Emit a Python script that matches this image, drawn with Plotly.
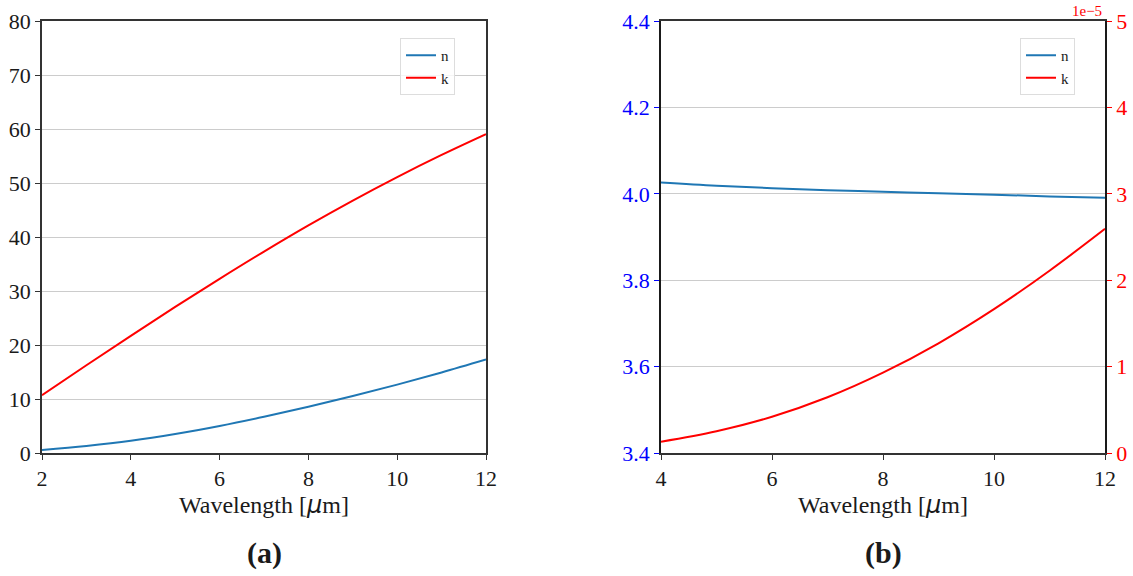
import plotly.graph_objects as go

# (a) optical constants over 2-12 um
wl_a = [2, 3, 4, 5, 6, 7, 8, 9, 10, 11, 12]
n_a = [0.56, 1.31, 2.26, 3.51, 5.01, 6.71, 8.56, 10.56, 12.66, 14.91, 17.31]
k_a = [10.7, 16.25, 21.7, 27.05, 32.25, 37.3, 42.15, 46.75, 51.1, 55.2, 59.05]

# (b) optical constants over 4-12 um (k in units of 1e-5)
wl_b = [4, 5, 6, 7, 8, 9, 10, 11, 12]
n_b = [4.026, 4.0185, 4.013, 4.0085, 4.005, 4.001, 3.998, 3.994, 3.991]
k_b = [0.131, 0.252, 0.42, 0.645, 0.93, 1.27, 1.665, 2.11, 2.595]

yticks_a = [0, 10, 20, 30, 40, 50, 60, 70, 80]
yticks_b_left = [3.4, 3.6, 3.8, 4.0, 4.2, 4.4]
yticks_b_right = [0, 1, 2, 3, 4, 5]

BLUE = "#1f77b4"
RED = "#ff0000"
SERIF = "Liberation Serif"
INK = "#1a1a1a"
W, H = 1133, 576

fig = go.Figure()
fig.add_trace(go.Scatter(x=wl_a, y=n_a, mode="lines", name="n", line=dict(color=BLUE, width=2, shape="spline"),
                         xaxis="x", yaxis="y", legend="legend"))
fig.add_trace(go.Scatter(x=wl_a, y=k_a, mode="lines", name="k", line=dict(color=RED, width=2, shape="spline"),
                         xaxis="x", yaxis="y", legend="legend"))
fig.add_trace(go.Scatter(x=wl_b, y=n_b, mode="lines", name="n", line=dict(color=BLUE, width=2, shape="spline"),
                         xaxis="x2", yaxis="y2", legend="legend2"))
fig.add_trace(go.Scatter(x=wl_b, y=k_b, mode="lines", name="k", line=dict(color=RED, width=2, shape="spline"),
                         xaxis="x2", yaxis="y3", legend="legend2"))

ydom = [(H - 453) / H, (H - 21) / H]
dom_a = [42 / W, 486 / W]
dom_b = [661 / W, 1105 / W]

tickfont = dict(family=SERIF, size=22, color=INK)
title_text = 'Wavelength [<span style="font-family:DejaVu Sans"><i>μ</i></span>m]'

common_x = dict(showline=True, linecolor="#333333", linewidth=1.5, mirror=True, automargin=False,
                ticks="outside", ticklen=5, tickwidth=1.2, tickcolor="#333333",
                showgrid=False, zeroline=False, tickfont=tickfont,
                title=dict(text=title_text, font=dict(family=SERIF, size=24, color=INK), standoff=2))

fig.update_layout(
    template="none",
    width=W, height=H,
    margin=dict(l=0, r=0, t=0, b=0, autoexpand=False),
    font=dict(family=SERIF, color=INK),
    paper_bgcolor="white", plot_bgcolor="white",
    showlegend=True,
    xaxis=dict(domain=dom_a, range=[2, 12], tickvals=[2, 4, 6, 8, 10, 12], anchor="y", **common_x),
    yaxis=dict(domain=ydom, range=[0, 80], tickvals=yticks_a, anchor="x", automargin=False,
               showline=True, linecolor="#333333", linewidth=1.5, mirror=True,
               ticks="outside", ticklen=5, tickwidth=1.2, tickcolor="#333333",
               showgrid=True, gridcolor="#cccccc", gridwidth=1, zeroline=False, tickfont=tickfont),
    xaxis2=dict(domain=dom_b, range=[4, 12], tickvals=[4, 6, 8, 10, 12], anchor="y2", **common_x),
    yaxis2=dict(domain=ydom, range=[3.4, 4.4], tickvals=yticks_b_left, tickformat=".1f", anchor="x2",
                automargin=False, showline=True, linecolor="#1a1a1a", linewidth=1.5,
                ticks="outside", ticklen=5, tickwidth=1.2, tickcolor="blue",
                showgrid=True, gridcolor="#cccccc", gridwidth=1, zeroline=False,
                tickfont=dict(family=SERIF, size=22, color="blue")),
    yaxis3=dict(range=[0, 5], tickvals=yticks_b_right, overlaying="y2", side="right", anchor="x2",
                automargin=False, showline=True, linecolor="#1a1a1a", linewidth=1.5,
                ticks="outside", ticklen=5, tickwidth=1.2, tickcolor="red",
                showgrid=False, zeroline=False,
                tickfont=dict(family=SERIF, size=22, color="red")),
    legend=dict(x=400 / W, y=1 - 38 / H, xanchor="left", yanchor="top",
                bgcolor="rgba(255,255,255,0.8)", bordercolor="#dddddd", borderwidth=1,
                font=dict(family=SERIF, size=15, color=INK), tracegroupgap=0),
    legend2=dict(x=1020 / W, y=1 - 38 / H, xanchor="left", yanchor="top",
                 bgcolor="rgba(255,255,255,0.8)", bordercolor="#dddddd", borderwidth=1,
                 font=dict(family=SERIF, size=15, color=INK), tracegroupgap=0),
)

fig.add_annotation(text="1e\u22125", xref="paper", yref="paper", x=1104 / W, y=1 - 11 / H,
                   xanchor="right", yanchor="middle", showarrow=False,
                   font=dict(family=SERIF, size=15, color="red"))
fig.add_annotation(text="<b>(a)</b>", xref="paper", yref="paper", x=(dom_a[0] + dom_a[1]) / 2, y=1 - 553 / H,
                   xanchor="center", yanchor="middle", showarrow=False,
                   font=dict(family=SERIF, size=30, color=INK))
fig.add_annotation(text="<b>(b)</b>", xref="paper", yref="paper", x=(dom_b[0] + dom_b[1]) / 2, y=1 - 553 / H,
                   xanchor="center", yanchor="middle", showarrow=False,
                   font=dict(family=SERIF, size=30, color=INK))

fig.write_html("out.html")
